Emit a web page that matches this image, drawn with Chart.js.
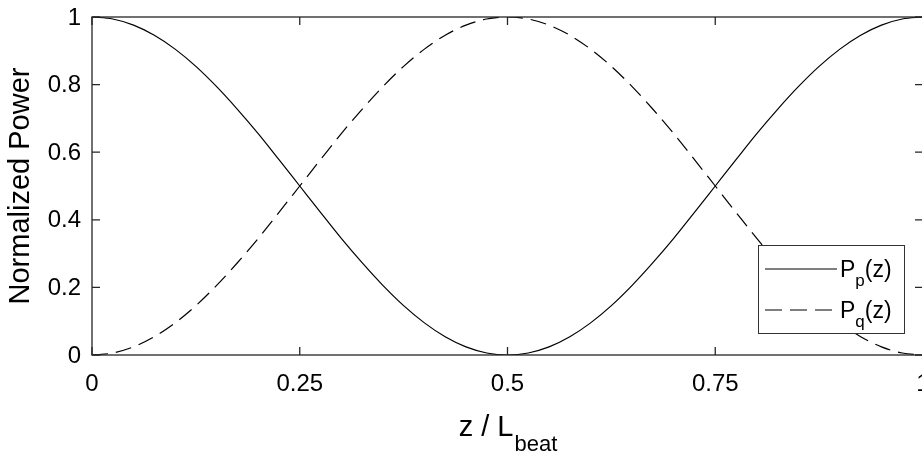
<!DOCTYPE html>
<html>
<head>
<meta charset="utf-8">
<script src="https://cdn.jsdelivr.net/npm/chart.js@4"></script>
<style>
  html, body { margin: 0; padding: 0; background: #fff; overflow: hidden; }
  #wrap { width: 922px; height: 454px; overflow: hidden; }
  #box { width: 950px; height: 454px; }
</style>
</head>
<body>
<div id="wrap"><div id="box"><canvas id="chart"></canvas></div></div>
<script>
// ===== DATA =====
const zValues = [0, 0.025, 0.05, 0.075, 0.1, 0.125, 0.15, 0.175, 0.2, 0.225,
  0.25, 0.275, 0.3, 0.325, 0.35, 0.375, 0.4, 0.425, 0.45, 0.475,
  0.5, 0.525, 0.55, 0.575, 0.6, 0.625, 0.65, 0.675, 0.7, 0.725,
  0.75, 0.775, 0.8, 0.825, 0.85, 0.875, 0.9, 0.925, 0.95, 0.975, 1];
const ppValues = [1, 0.994, 0.976, 0.946, 0.905, 0.854, 0.794, 0.727, 0.655, 0.578,
  0.5, 0.422, 0.345, 0.273, 0.206, 0.146, 0.095, 0.054, 0.024, 0.006,
  0, 0.006, 0.024, 0.054, 0.095, 0.146, 0.206, 0.273, 0.345, 0.422,
  0.5, 0.578, 0.655, 0.727, 0.794, 0.854, 0.905, 0.946, 0.976, 0.994, 1];
const pqValues = [0, 0.006, 0.024, 0.054, 0.095, 0.146, 0.206, 0.273, 0.345, 0.422,
  0.5, 0.578, 0.655, 0.727, 0.794, 0.854, 0.905, 0.946, 0.976, 0.994,
  1, 0.994, 0.976, 0.946, 0.905, 0.854, 0.794, 0.727, 0.655, 0.578,
  0.5, 0.422, 0.345, 0.273, 0.206, 0.146, 0.095, 0.054, 0.024, 0.006, 0];
const xTicks = [0, 0.25, 0.5, 0.75, 1];
const yTicks = [0, 0.2, 0.4, 0.6, 0.8, 1];

const FONT = "'Liberation Sans', Arial, Helvetica, sans-serif";

// ===== PLUGIN: box, inward ticks, labels, titles, legend =====
const matlabAxes = {
  id: "matlabAxes",
  afterDraw(chart) {
    const ctx = chart.ctx;
    const a = chart.chartArea;
    const xs = chart.scales.x, ys = chart.scales.y;
    ctx.save();
    ctx.strokeStyle = "#262626";
    ctx.lineWidth = 1.3;
    ctx.strokeRect(a.left, a.top, a.right - a.left, a.bottom - a.top);

    const tl = 8;
    ctx.beginPath();
    xTicks.forEach(v => {
      const px = xs.getPixelForValue(v);
      ctx.moveTo(px, a.bottom); ctx.lineTo(px, a.bottom - tl);
      ctx.moveTo(px, a.top); ctx.lineTo(px, a.top + tl);
    });
    yTicks.forEach(v => {
      const py = ys.getPixelForValue(v);
      ctx.moveTo(a.left, py); ctx.lineTo(a.left + tl, py);
      ctx.moveTo(a.right, py); ctx.lineTo(a.right - tl, py);
    });
    ctx.stroke();

    // tick labels
    ctx.fillStyle = "#000";
    ctx.font = "24px " + FONT;
    ctx.textAlign = "center";
    ctx.textBaseline = "middle";
    xTicks.forEach(v => ctx.fillText(String(v), xs.getPixelForValue(v), a.bottom + 29));
    ctx.textAlign = "right";
    yTicks.forEach(v => ctx.fillText(String(v), a.left - 11, ys.getPixelForValue(v) + 1));

    // y title
    ctx.save();
    ctx.translate(21, (a.top + a.bottom) / 2);
    ctx.rotate(-Math.PI / 2);
    ctx.font = "29px " + FONT;
    ctx.textAlign = "center";
    ctx.textBaseline = "middle";
    ctx.fillText("Normalized Power", 0, 0);
    ctx.restore();

    // x title with subscript
    ctx.font = "29px " + FONT;
    const main = "z / L";
    const wMain = ctx.measureText(main).width;
    ctx.font = "22px " + FONT;
    const wSub = ctx.measureText("beat").width;
    const cx = xs.getPixelForValue(0.5);
    const x0 = cx - (wMain + wSub) / 2;
    ctx.textAlign = "left";
    ctx.textBaseline = "alphabetic";
    ctx.font = "29px " + FONT;
    ctx.fillText(main, x0, 436);
    ctx.font = "22px " + FONT;
    ctx.fillText("beat", x0 + wMain + 1, 451);

    // legend
    const lx = 758, ly = 245, lw = 146, lh = 88;
    ctx.fillStyle = "#fff";
    ctx.fillRect(lx, ly, lw, lh);
    ctx.strokeStyle = "#333";
    ctx.lineWidth = 1;
    ctx.strokeRect(lx + 0.5, ly + 0.5, lw, lh);
    const rows = [
      { y: 269, sub: "p", dash: [] },
      { y: 310, sub: "q", dash: [17, 8] }
    ];
    rows.forEach(r => {
      ctx.strokeStyle = "#000";
      ctx.lineWidth = 1.2;
      ctx.setLineDash(r.dash);
      ctx.beginPath();
      ctx.moveTo(765, r.y); ctx.lineTo(837, r.y);
      ctx.stroke();
      ctx.setLineDash([]);
      ctx.fillStyle = "#000";
      ctx.font = "23px " + FONT;
      ctx.fillText("P", 840, r.y + 8);
      const wP = ctx.measureText("P").width;
      ctx.font = "17px " + FONT;
      ctx.fillText(r.sub, 840 + wP, r.y + 17);
      const wS = ctx.measureText(r.sub).width;
      ctx.font = "23px " + FONT;
      ctx.fillText("(z)", 840 + wP + wS, r.y + 8);
    });
    ctx.restore();
  }
};

// ===== CHART =====
const ctx = document.getElementById("chart").getContext("2d");
new Chart(ctx, {
  type: "line",
  data: {
    datasets: [
      {
        label: "Pp(z)",
        data: zValues.map((z, i) => ({ x: z, y: ppValues[i] })),
        borderColor: "#000",
        borderWidth: 1.2,
        pointRadius: 0,
        cubicInterpolationMode: "monotone",
        fill: false
      },
      {
        label: "Pq(z)",
        data: zValues.map((z, i) => ({ x: z, y: pqValues[i] })),
        borderColor: "#000",
        borderWidth: 1.2,
        borderDash: [16, 8],
        pointRadius: 0,
        cubicInterpolationMode: "monotone",
        fill: false
      }
    ]
  },
  options: {
    responsive: true,
    maintainAspectRatio: false,
    animation: false,
    layout: { padding: { left: 92, right: 27, top: 17, bottom: 99 } },
    plugins: { legend: { display: false }, tooltip: { enabled: false } },
    scales: {
      x: { type: "linear", min: 0, max: 1, display: false },
      y: { type: "linear", min: 0, max: 1, display: false }
    }
  },
  plugins: [matlabAxes]
});
</script>
</body>
</html>
